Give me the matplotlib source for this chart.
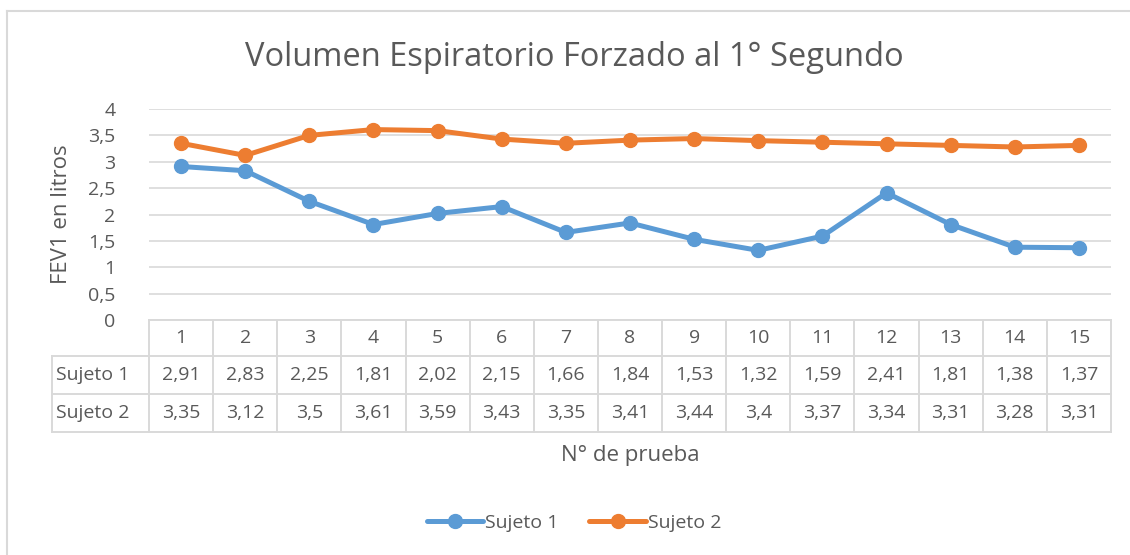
import matplotlib
matplotlib.use("Agg")
import matplotlib.pyplot as plt
from matplotlib.lines import Line2D

pruebas = list(range(1, 16))
sujeto1 = [2.91, 2.83, 2.25, 1.81, 2.02, 2.15, 1.66, 1.84, 1.53, 1.32, 1.59, 2.41, 1.81, 1.38, 1.37]
sujeto2 = [3.35, 3.12, 3.50, 3.61, 3.59, 3.43, 3.35, 3.41, 3.44, 3.40, 3.37, 3.34, 3.31, 3.28, 3.31]
series = [("Sujeto 1", sujeto1, "#5B9BD5"), ("Sujeto 2", sujeto2, "#ED7D31")]
yticks = [0, 0.5, 1, 1.5, 2, 2.5, 3, 3.5, 4]

W, H = 1130, 555
TXT = "#595959"
GRID = "#D9D9D9"
FS = 14        # ticks, table, legend
FS_AX = 16     # axis titles
plt.rcParams["font.family"] = ["Open Sans", "DejaVu Sans"]


def fx(px):
    return px / W


def fy(py):
    return 1 - py / H


def coma(v):
    return f"{v:g}".replace(".", ",")


fig = plt.figure(figsize=(W / 100, H / 100), dpi=100)

# plot area in pixel coordinates
L, R, T, B = 149, 1111, 109, 320
ax = fig.add_axes([fx(L), fy(B), fx(R) - fx(L), fy(T) - fy(B)])
ax.set_xlim(0.5, len(pruebas) + 0.5)
ax.set_ylim(0, 4)
for s in ax.spines.values():
    s.set_visible(False)
ax.set_yticks(yticks)
ax.set_yticklabels([coma(v) for v in yticks])
ax.tick_params(axis="y", length=0, pad=24, labelsize=FS, labelcolor=TXT)
ax.set_xticks([])
ax.grid(axis="y", color=GRID, lw=1.2)
ax.set_axisbelow(True)
ax.set_ylabel("FEV1 en litros", fontsize=FS_AX, color=TXT, labelpad=12)

for name, vals, col in series:
    ax.plot(pruebas, vals, color=col, lw=3.6, marker="o", ms=10,
            solid_capstyle="round", label=name, zorder=3)

# data table under the axis
rows = [320, 356, 394, 432]
colw = (R - L) / len(pruebas)
lab_left = 52
line_kw = dict(color=GRID, lw=1.4, transform=fig.transFigure)
fig.add_artist(Line2D([fx(L), fx(R)], [fy(rows[0])] * 2, **line_kw))
for r in rows[1:]:
    fig.add_artist(Line2D([fx(lab_left), fx(R)], [fy(r)] * 2, **line_kw))
for i in range(len(pruebas) + 1):
    x = L + i * colw
    fig.add_artist(Line2D([fx(x)] * 2, [fy(rows[0]), fy(rows[3])], **line_kw))
fig.add_artist(Line2D([fx(lab_left)] * 2, [fy(rows[1]), fy(rows[3])], **line_kw))

tkw = dict(fontsize=FS, color=TXT, ha="center", va="center")
for i, p in enumerate(pruebas):
    cx = fx(L + (i + 0.5) * colw)
    fig.text(cx, fy((rows[0] + rows[1]) / 2), str(p), **tkw)
    for k, (name, vals, col) in enumerate(series):
        fig.text(cx, fy((rows[k + 1] + rows[k + 2]) / 2), coma(vals[i]), **tkw)
for k, (name, vals, col) in enumerate(series):
    fig.text(fx(lab_left + 4), fy((rows[k + 1] + rows[k + 2]) / 2), name,
             fontsize=FS, color=TXT, ha="left", va="center")

fig.text(fx((L + R) / 2), fy(455), "N° de prueba", fontsize=FS_AX, color=TXT,
         ha="center", va="center")
fig.text(fx(574), fy(58), "Volumen Espiratorio Forzado al 1° Segundo",
         fontsize=23.5, color=TXT, ha="center", va="center")

# chart frame (only top and left edges fall inside the image)
frame_kw = dict(color=GRID, lw=1.5, transform=fig.transFigure)
fig.add_artist(Line2D([fx(7), 1], [fy(10.5)] * 2, **frame_kw))
fig.add_artist(Line2D([fx(7)] * 2, [fy(10.5), 0], **frame_kw))

h, l = ax.get_legend_handles_labels()
fig.legend(h, l, loc="center", bbox_to_anchor=(fx(574), fy(523)), ncol=2,
           frameon=False, fontsize=FS, labelcolor=TXT, handlelength=2.9,
           handletextpad=0.1, columnspacing=1.6)

fig.savefig("out.png", dpi=100, facecolor="white")
